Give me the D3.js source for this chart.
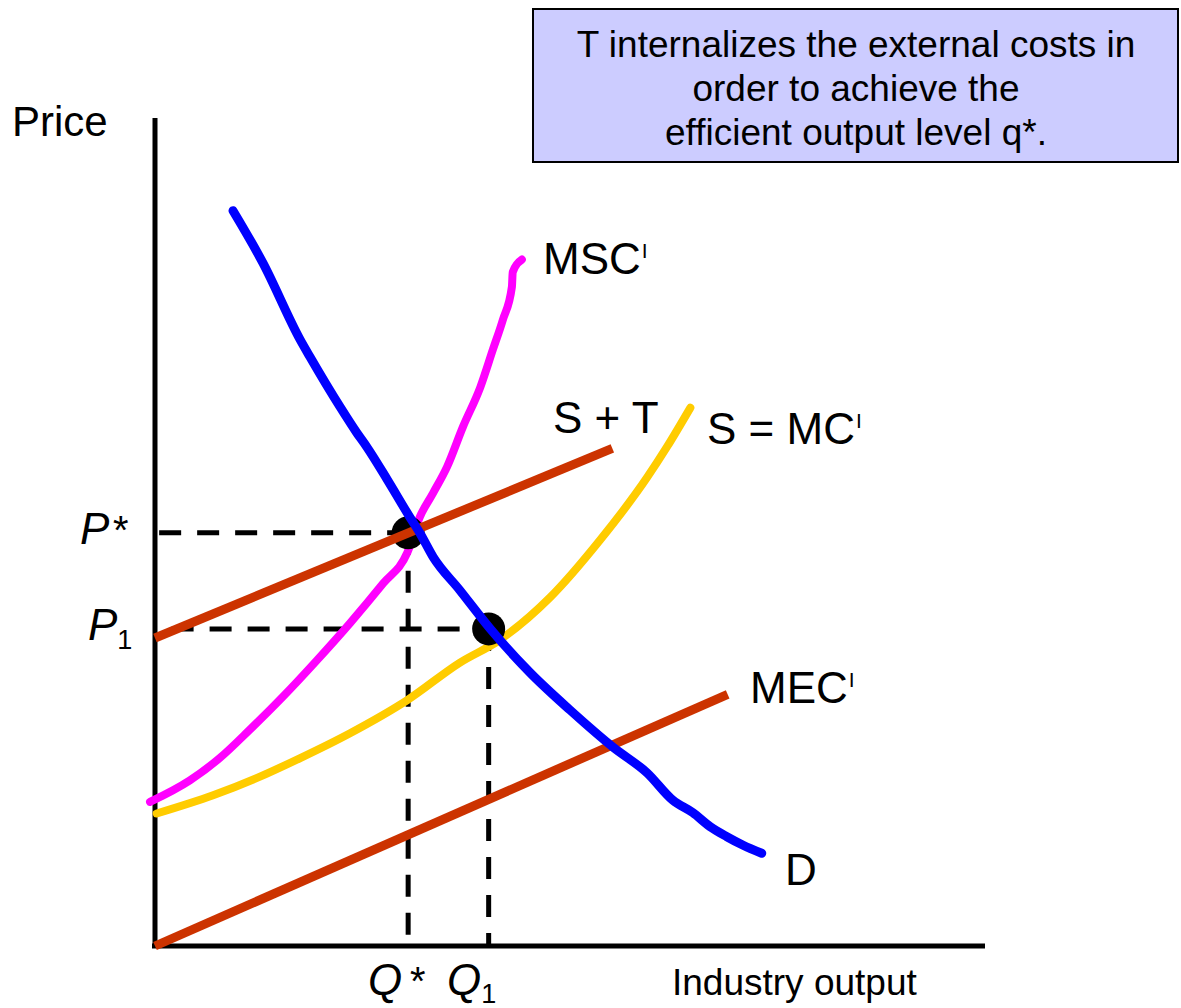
<!DOCTYPE html>
<html>
<head>
<meta charset="utf-8">
<script src="https://cdnjs.cloudflare.com/ajax/libs/d3/7.8.5/d3.min.js"></script>
<style>
  body { margin: 0; background: #fff; }
  text { font-family: "Liberation Sans", Arial, sans-serif; fill: #000; }
</style>
</head>
<body>
<svg id="chart" width="1181" height="1008"></svg>
<script>
// ----- data (output units 0..100, price units 0..100) -----
var demand = [[9.4,88.8],[13.0,82.5],[17.5,73.2],[18.7,71.1],[22.3,65.1],[24.3,62.0],[25.5,60.3],
  [28.0,56.3],[30.7,51.8],[31.9,49.9],[33.5,47.0],[36.7,43.0],[40.4,38.3],[45.2,33.0],[50.0,28.5],
  [55.2,24.0],[59.3,20.9],[62.4,17.6],[64.8,16.1],[66.9,14.4],[68.9,13.2],[70.8,12.2],[73.1,11.2]];
var msc = [[-0.6,17.4],[4.2,20.0],[7.8,22.7],[11.4,26.1],[15.4,30.1],[19.5,34.5],[23.5,39.0],
  [27.5,43.8],[30.4,47.5],[31.9,51.8],[33.5,54.7],[35.2,57.9],[37.1,62.7],[39.2,67.5],[40.7,72.0],
  [41.9,75.6],[43.0,79.6],[43.1,81.4],[44.2,82.9]];
var supply = [[0.2,16.0],[7.0,18.2],[12.3,20.3],[17.5,22.7],[23.5,25.7],[30.4,29.7],[36.7,34.2],
  [41.6,37.0],[47.6,42.1],[53.6,49.0],[59.3,56.6],[61.7,60.3],[64.5,65.0]];
var supplyPlusTax = [[0,37.2],[55.1,60.1]];
var mec = [[0,0],[69.0,30.4]];
var equilibria = [
  {name: "star", q: 30.5, p: 49.9, pLabel: "P", pSub: "*", qLabel: "Q", qSub: "*"},
  {name: "one",  q: 40.2, p: 38.3, pLabel: "P", pSub: "1", qLabel: "Q", qSub: "1"}
];
var noteLines = ["T internalizes the external costs in", "order to achieve the", "efficient output level q*."];

var svg = d3.select('#chart');
var x = d3.scaleLinear().domain([0, 100]).range([155, 985]);
var y = d3.scaleLinear().domain([0, 100]).range([946, 118]);

var line = d3.line()
  .x(function(d){ return x(d[0]); })
  .y(function(d){ return y(d[1]); })
  .curve(d3.curveMonotoneX);
var straight = d3.line()
  .x(function(d){ return x(d[0]); })
  .y(function(d){ return y(d[1]); });

// axes
svg.append('line').attr('x1', x(0)).attr('x2', x(0)).attr('y1', y(100)).attr('y2', y(0) + 2)
   .attr('stroke', '#000').attr('stroke-width', 5);
svg.append('line').attr('x1', x(0) - 3).attr('x2', x(100)).attr('y1', y(0)).attr('y2', y(0))
   .attr('stroke', '#000').attr('stroke-width', 5);

// dashed guide lines
var dashStart = {star: 0.5, one: 2.0};
equilibria.forEach(function(e){
  svg.append('line')
     .attr('x1', x(dashStart[e.name])).attr('x2', x(e.q))
     .attr('y1', y(e.p)).attr('y2', y(e.p))
     .attr('stroke', '#000').attr('stroke-width', 5).attr('stroke-dasharray', '22,16');
  svg.append('line')
     .attr('x1', x(e.q)).attr('x2', x(e.q))
     .attr('y1', y(e.p)).attr('y2', y(0))
     .attr('stroke', '#000').attr('stroke-width', 5).attr('stroke-dasharray', '22,16');
});

// curves
svg.append('path').datum(msc).attr('d', line)
   .attr('fill', 'none').attr('stroke', '#FF00FF').attr('stroke-width', 8).attr('stroke-linecap', 'round');
svg.append('path').datum(supply).attr('d', line)
   .attr('fill', 'none').attr('stroke', '#FFCC00').attr('stroke-width', 8).attr('stroke-linecap', 'round');

svg.selectAll('circle.eq').data(equilibria).enter().append('circle')
   .attr('class', 'eq')
   .attr('cx', function(d){ return x(d.q); })
   .attr('cy', function(d){ return y(d.p); })
   .attr('r', 16.5).attr('fill', '#000');

[supplyPlusTax, mec].forEach(function(l){
  svg.append('path').datum(l).attr('d', straight)
     .attr('fill', 'none').attr('stroke', '#CC3300').attr('stroke-width', 9);
});
svg.append('path').datum(demand).attr('d', line)
   .attr('fill', 'none').attr('stroke', '#0000FF').attr('stroke-width', 9)
   .attr('stroke-linecap', 'round').attr('stroke-linejoin', 'round');

// curve labels
function label(tx, ty, main, sup){
  var t = svg.append('text').attr('x', tx).attr('y', ty).attr('font-size', 44).text(main);
  if(sup){
    t.append('tspan').attr('font-size', 21).attr('dx', 1).attr('dy', -16).text(sup);
  }
  return t;
}
label(543, 274, 'MSC', 'I');
label(553, 433, 'S + T');
label(707, 444, 'S = MC', 'I');
label(750, 703, 'MEC', 'I');
label(785, 885, 'D');

// axis titles
svg.append('text').attr('x', 12).attr('y', 136).attr('font-size', 42).text('Price');
svg.append('text').attr('x', 672).attr('y', 995).attr('font-size', 37).text('Industry output');

// price and quantity labels
equilibria.forEach(function(e){
  var pt = svg.append('text').attr('x', e.name === 'star' ? 80 : 88).attr('y', y(e.p) + 11)
     .attr('font-size', 44).attr('font-style', 'italic').text(e.pLabel);
  var qt = svg.append('text').attr('x', e.name === 'star' ? 368 : 447).attr('y', 995)
     .attr('font-size', 44).attr('font-style', 'italic').text(e.qLabel);
  if(e.pSub === '*'){
    pt.append('tspan').attr('font-size', 40).attr('dx', 2).text('*');
    qt.append('tspan').attr('font-size', 40).attr('dx', 6).text('*');
  } else {
    pt.append('tspan').attr('font-size', 27).attr('font-style', 'normal').attr('dy', 9).text(e.pSub);
    qt.append('tspan').attr('font-size', 27).attr('font-style', 'normal').attr('dy', 8).text(e.qSub);
  }
});

// note box
svg.append('rect').attr('x', 533).attr('y', 9).attr('width', 645).attr('height', 153)
   .attr('fill', '#CCCCFF').attr('stroke', '#000').attr('stroke-width', 2);
svg.selectAll('text.note').data(noteLines).enter().append('text')
   .attr('class', 'note')
   .attr('x', 856)
   .attr('y', function(d, i){ return 57 + i * 44; })
   .attr('text-anchor', 'middle')
   .attr('font-size', 37)
   .text(function(d){ return d; });
</script>
</body>
</html>
